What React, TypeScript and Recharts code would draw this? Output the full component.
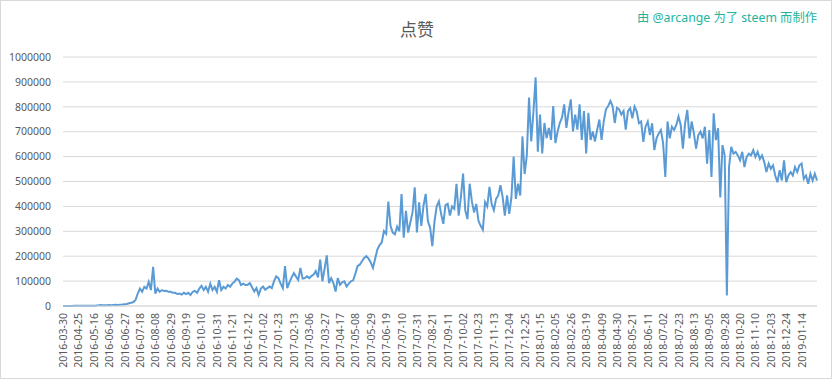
import { CartesianGrid, Line, LineChart, XAxis, YAxis } from "recharts";

// one label every 21 days on the axis
const tickDates = [
  "2016-03-30", "2016-04-25", "2016-05-16", "2016-06-06", "2016-06-27", "2016-07-18",
  "2016-08-08", "2016-08-29", "2016-09-19", "2016-10-10", "2016-10-31", "2016-11-21",
  "2016-12-12", "2017-01-02", "2017-01-23", "2017-02-13", "2017-03-06", "2017-03-27",
  "2017-04-17", "2017-05-08", "2017-05-29", "2017-06-19", "2017-07-10", "2017-07-31",
  "2017-08-21", "2017-09-11", "2017-10-02", "2017-10-23", "2017-11-13", "2017-12-04",
  "2017-12-25", "2018-01-15", "2018-02-05", "2018-02-26", "2018-03-19", "2018-04-09",
  "2018-04-30", "2018-05-21", "2018-06-11", "2018-07-02", "2018-07-23", "2018-08-13",
  "2018-09-05", "2018-09-28", "2018-10-20", "2018-11-10", "2018-12-03", "2018-12-24",
  "2019-01-14",
];

const yTicks = [0, 100000, 200000, 300000, 400000, 500000, 600000, 700000, 800000, 900000, 1000000];

// sampled every 3 days, 7 samples per label gap
const likes2016 = [
  300, 400, 400, 500, 500, 600, 700,
  800, 800, 900, 1000, 900, 1100, 1200,
  1400, 1800, 2500, 4000, 3000, 3500, 3000,
  4000, 3500, 4500, 5000, 4200, 5500, 6000,
  7000, 8000, 11000, 13000, 16000, 24000, 50000,
  70000, 57000, 77000, 70000, 97000, 64000, 157000,
  50000, 70000, 57000, 64000, 60000, 61000, 57000,
  57000, 53000, 53000, 48000, 50000, 46000, 53000,
  48000, 53000, 44000, 57000, 61000, 53000, 70000,
  81000, 64000, 77000, 57000, 90000, 64000, 77000,
  57000, 104000, 64000, 77000, 70000, 84000, 77000,
  90000, 97000, 110000, 104000, 84000, 90000, 84000,
  85000, 92000, 75000, 58000, 72000, 45000, 70000,
];

const likes2017 = [
  78000, 65000, 72000, 78000, 72000, 100000, 119000,
  112000, 90000, 72000, 160000, 72000, 95000, 115000,
  132000, 118000, 105000, 153000, 110000, 112000, 119000,
  112000, 120000, 126000, 140000, 115000, 186000, 99000,
  150000, 203000, 92000, 112000, 92000, 58000, 112000,
  85000, 95000, 99000, 78000, 90000, 99000, 103000,
  130000, 160000, 166000, 180000, 193000, 200000, 190000,
  175000, 153000, 190000, 227000, 245000, 255000, 301000,
  290000, 419000, 322000, 295000, 288000, 319000, 300000,
  450000, 274000, 382000, 295000, 335000, 376000, 477000,
  295000, 416000, 322000, 403000, 450000, 340000, 315000,
  240000, 340000, 400000, 420000, 370000, 330000, 405000,
  410000, 363000, 400000, 390000, 491000, 363000, 437000,
  532000, 383000, 349000, 491000, 420000, 376000, 410000,
  342000, 322000, 306000, 417000, 400000, 478000, 410000,
  385000, 430000, 444000, 485000, 437000, 363000, 444000,
  370000, 437000, 600000, 430000, 491000, 444000, 681000,
  530000, 606000, 837000, 661000, 780000, 918000, 620000,
];

const likes2018 = [
  769000, 613000, 735000, 674000, 715000, 667000, 803000,
  654000, 701000, 735000, 756000, 810000, 715000, 780000,
  830000, 701000, 769000, 708000, 810000, 667000, 783000,
  613000, 776000, 667000, 701000, 661000, 708000, 749000,
  667000, 742000, 790000, 803000, 823000, 803000, 735000,
  796000, 790000, 769000, 783000, 708000, 783000, 795000,
  754000, 801000, 781000, 734000, 741000, 659000, 720000,
  741000, 686000, 734000, 626000, 673000, 693000, 707000,
  653000, 518000, 741000, 673000, 720000, 707000, 727000,
  761000, 727000, 632000, 734000, 788000, 673000, 741000,
  693000, 632000, 686000, 700000, 673000, 720000, 572000,
  707000, 518000, 774000, 666000, 714000, 436000, 646000,
  605000, 42000, 560000, 639000, 612000, 619000, 605000,
  585000, 619000, 558000, 599000, 612000, 605000, 626000,
  599000, 619000, 590000, 605000, 578000, 538000, 572000,
  551000, 565000, 524000, 497000, 545000, 504000, 585000,
  497000, 524000, 538000, 524000, 558000, 538000, 565000,
];

const likes2019 = [572000, 511000, 524000, 491000, 531000, 504000, 531000, 504000];

const STEP = 3;
const likes = [...likes2016, ...likes2017, ...likes2018, ...likes2019];
const data = likes.map((v, i) => ({ day: i * STEP, likes: v }));
const xTicks = tickDates.map((_, k) => k * 21);

const axisColor = "#595959";
const font = "'Noto Sans', 'Noto Sans CJK SC', sans-serif";

function DateTick({ x, y, payload }: any) {
  const label = tickDates[Math.round(payload.value / 21)];
  return (
    <text
      x={x}
      y={y}
      transform={`rotate(-90 ${x} ${y})`}
      textAnchor="end"
      dominantBaseline="central"
      fill={axisColor}
      fontSize={10.5}
      fontFamily={font}
    >
      {label}
    </text>
  );
}

export default function App() {
  return (
    <div
      style={{
        position: "absolute",
        left: 0,
        top: 0,
        width: 832,
        height: 379,
        boxSizing: "border-box",
        border: "1px solid #d9d9d9",
        background: "#fff",
        fontFamily: font,
      }}
    >
      <div
        style={{
          position: "absolute",
          left: 0,
          width: 832,
          top: 17,
          textAlign: "center",
          fontSize: 17,
          lineHeight: "24px",
          color: axisColor,
        }}
      >
        点赞
      </div>
      <div
        style={{
          position: "absolute",
          right: 14,
          top: 8,
          fontSize: 12.3,
          lineHeight: "18px",
          color: "#21b5a0",
          whiteSpace: "nowrap",
        }}
      >
        由 @arcange 为了 steem 而制作
      </div>
      <div style={{ position: "absolute", left: -1, top: -1 }}>
        <LineChart width={832} height={379} data={data} margin={{ top: 57, right: 15, bottom: 0, left: 0 }}>
          <CartesianGrid vertical={false} stroke="#d9d9d9" />
          <XAxis
            dataKey="day"
            type="number"
            domain={[0, 1029]}
            ticks={xTicks}
            interval={0}
            height={73}
            tickLine={false}
            tickMargin={1}
            axisLine={{ stroke: "#d9d9d9" }}
            tick={<DateTick />}
          />
          <YAxis
            type="number"
            domain={[0, 1000000]}
            ticks={yTicks}
            interval={0}
            width={63}
            tickLine={false}
            axisLine={false}
            tickMargin={6}
            tick={{ fill: axisColor, fontSize: 10.5, fontFamily: font }}
          />
          <Line
            type="linear"
            dataKey="likes"
            stroke="#5b9bd5"
            strokeWidth={2}
            dot={false}
            isAnimationActive={false}
          />
        </LineChart>
      </div>
    </div>
  );
}
